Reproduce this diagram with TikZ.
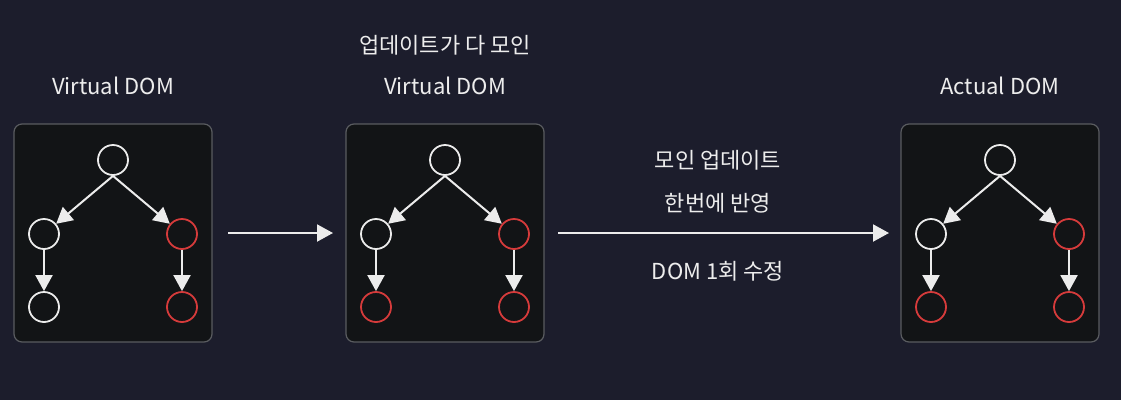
\documentclass[tikz,border=0pt]{standalone}
\usepackage{fontspec}
\setmainfont{Noto Sans CJK KR}
\usepackage{tikz}
\usetikzlibrary{positioning}
\usetikzlibrary{arrows.meta}
\usepackage{xcolor}
\definecolor{bg}{HTML}{1C1D2C}
\definecolor{panelfill}{HTML}{121416}
\definecolor{panelline}{HTML}{5A5C60}
\definecolor{chalk}{HTML}{ECECEC}
\definecolor{dotred}{HTML}{D63B3B}
\definecolor{label}{HTML}{EDEDED}

\begin{document}
\begin{tikzpicture}[x=1pt,y=-1pt,
    panel/.style={draw=panelline,fill=panelfill,line width=1.2pt,rounded corners=8pt},
    dot/.style={circle,draw=#1,line width=1.8pt,minimum size=30pt,inner sep=0pt},
    link/.style={draw=chalk,line width=2pt,-{Triangle[length=16pt,width=17pt]}},
    caption/.style={text=label,font=\fontsize{22}{26}\selectfont}]
    \fill[bg] (0,0) rectangle (1121,400);
    \foreach \i/\x/\c in {1/14/chalk,2/346/dotred,3/901/dotred} {
      \draw[panel] (\x,124) rectangle ++(198,218);
      \node[dot=chalk] (T\i) at (\x+99,160) {};
      \node[dot=chalk] (L\i) at (\x+30,234) {};
      \node[dot=dotred] (R\i) at (\x+168,234) {};
      \node[dot=\c] (LL\i) at (\x+30,307) {};
      \node[dot=dotred] (RR\i) at (\x+168,307) {};
      \draw[link] (T\i.south) -- (L\i);
      \draw[link] (T\i.south) -- (R\i);
      \draw[link] (L\i) -- (LL\i);
      \draw[link] (R\i) -- (RR\i);
    }
    % labels
    \node[caption] (vd1) at (113,86) {Virtual DOM};
    \node[caption] (vd2) at (445,86) {Virtual DOM};
    \node[caption] (up) at (445,45) {업데이트가 다 모인};
    \node[caption] (ad) at (1000,86) {Actual DOM};
    % transitions
    \coordinate (a1) at (228,233);
    \coordinate (b1) at (333,233);
    \coordinate (a2) at (558,233);
    \coordinate (b2) at (889,233);
    \draw[link] (a1) -- (b1);
    \draw[link] (a2) -- (b2);
    \node[caption] (m1) at (718,160) {모인 업데이트};
    \node[caption] (m2) at (718,203) {한번에 반영};
    \node[caption] (m3) at (718,271) {DOM 1회 수정};
\end{tikzpicture}
\end{document}
